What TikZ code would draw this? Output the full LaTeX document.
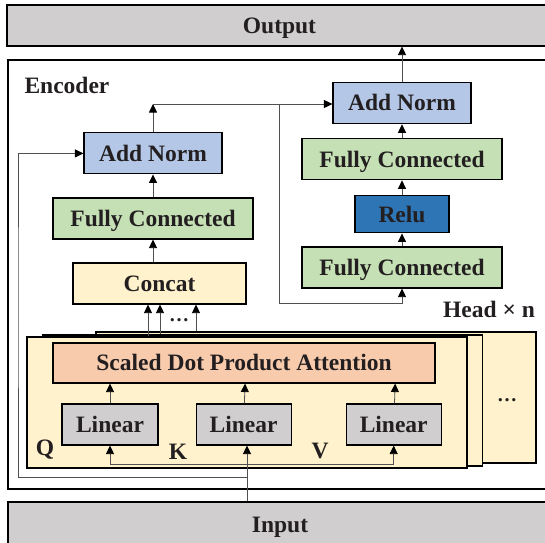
\documentclass[tikz,border=0pt]{standalone}
\usepackage{fontspec}
\setmainfont{Liberation Serif}
\usetikzlibrary{positioning,arrows.meta}
\definecolor{txtdark}{RGB}{35,31,32}
\definecolor{boxgray}{RGB}{208,206,206}
\definecolor{normblue}{RGB}{180,199,231}
\definecolor{fcgreen}{RGB}{197,224,180}
\definecolor{headyellow}{RGB}{255,242,204}
\definecolor{attnorange}{RGB}{248,203,173}
\definecolor{relublue}{RGB}{46,117,182}
\definecolor{wiregray}{RGB}{80,80,80}

\begin{document}
\begin{tikzpicture}[x=1pt,y=-1pt,>={Triangle[length=8.5pt,width=8pt,color=black]},
      font=\fontsize{23.5}{26}\selectfont\bfseries,text=txtdark,
      block/.style={draw=black,line width=1.1pt,inner sep=0pt,minimum height=41pt,text height=15.5pt,text depth=0pt},
      gray box/.style={block,fill=boxgray},
      norm box/.style={block,fill=normblue,minimum width=138pt},
      fc box/.style={block,fill=fcgreen,minimum width=200pt},
      linear box/.style={block,fill=boxgray,minimum width=95pt},
      head box/.style={draw=black,line width=1.1pt,fill=headyellow,minimum width=440pt,minimum height=131pt},
      wire/.style={draw=wiregray,line width=0.8pt}]
      \useasboundingbox (0,0) rectangle (545,542);

      % outer frames
      \node[gray box,minimum width=545pt] (output) at (279.5,25.5) {Output};
      \node[gray box,minimum width=544pt,minimum height=46pt] (input) at (280,525) {Input};
      \node[draw=black,line width=2.4pt,minimum width=547pt,minimum height=429pt] (encoder) at (281.5,274.5) {};
      \node (enclabel) at (67,85) {Encoder};
      \node (headlabel) at (489,309) {Head × n};

      % attention heads
      \node[head box] (head3) at (316,397.5) {};
      \node[head box] (head2) at (262.5,400.5) {};
      \node[head box] (head1) at (247,402.5) {};
      \node (moreheads) at (507,400) {\fontsize{20}{22}\selectfont …};
      \node[block,fill=attnorange,minimum width=382pt,minimum height=40pt] (sdpa) at (244,363) {Scaled Dot Product Attention};
      \node[linear box,minimum width=96pt] (linq) at (110,424.5) {Linear};
      \node[linear box] (link) [right=37pt of linq] {Linear};
      \node[linear box] (linv) [right=54pt of link] {Linear};
      \node (qlabel) at (45,450) {Q};
      \node (klabel) at (178,452) {K};
      \node (vlabel) at (320,451) {V};

      % left column
      \node[block,fill=headyellow,minimum width=173pt] (concat) at (159.5,283.5) {Concat};
      \node[fc box] (fc1) at (153,218.5) {Fully Connected};
      \node[norm box] (addnorm1) [above=23pt of fc1] {Add Norm};
      \node (cdots) at (179,320) {\fontsize{20}{22}\selectfont …};

      % right column
      \node[fc box] (fcr1) at (402,267.5) {Fully Connected};
      \node[block,fill=relublue,minimum width=94pt,minimum height=37pt] (relu) [above=13pt of fcr1] {Relu};
      \node[fc box] (fcr2) [above=15pt of relu] {Fully Connected};
      \node[norm box] (addnorm2) [above=14pt of fcr2] {Add Norm};

      \coordinate (split) at (279,104);
      \coordinate (bend) at (279,303);
      \coordinate (feed) at (247,477);
      \coordinate (skip) at (18,300);
      \coordinate (bus) at (247,464);
      \coordinate (cin1) at ([xshift=-11.5pt]concat.south);
      \coordinate (cin2) at ([xshift=0.5pt]concat.south);
      \coordinate (cin3) at ([xshift=36.5pt]concat.south);

      \path[->,wire]
        (fcr1) edge (relu)
        (relu) edge (fcr2)
        (fcr2) edge (addnorm2)
        (fc1) edge (addnorm1)
        (linq) edge (linq |- sdpa.south)
        (link) edge ([xshift=1.5pt]link.north |- sdpa.south)
        (linv) edge ([xshift=1.5pt]linv.north |- sdpa.south);

      \draw[wire,->] (addnorm2) -- (addnorm2 |- output.south);
      \draw[wire,->] (fc1.south |- concat.north) -- (fc1.south);
      \draw[wire,->] (addnorm1) -- (addnorm1 |- split);
      \draw[wire,->] (addnorm1 |- split) -- (split -| addnorm2.west);
      \draw[wire,->] (split) -- (bend) -| (fcr1.south);
      \draw[wire,->] (cin1 |- head1.north) -- (cin1);
      \draw[wire,->] (cin2 |- head2.north) -- (cin2);
      \draw[wire,->] (cin3 |- head3.north) -- (cin3);
      \draw[wire,<->] (linq.south) -- (bus -| linq) -- (bus -| linv) -- (linv.south);
      \draw[wire,->] (feed |- input.north) -- (feed |- link.south);
      \draw[wire,->] (feed) -| (skip) |- (addnorm1.west);
\end{tikzpicture}
\end{document}
